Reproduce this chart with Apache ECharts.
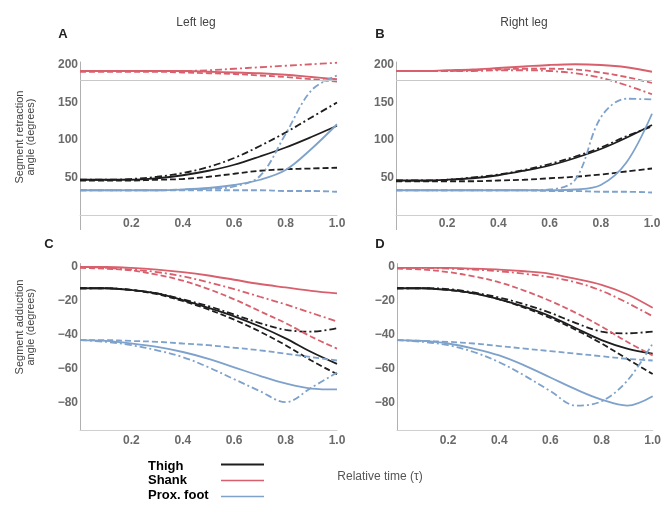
<!DOCTYPE html>
<html><head><meta charset="utf-8">
<script src="https://cdn.jsdelivr.net/npm/echarts@6/dist/echarts.min.js"></script>
<style>html,body{margin:0;padding:0;background:#fff}#c{width:664px;height:507px}</style>
</head><body><div id="c"></div>
<script>
// Relative time (tau)
const T = [0,0.1,0.2,0.3,0.4,0.5,0.6,0.7,0.8,0.9,1.0];
const xTicks = [0.2,0.4,0.6,0.8,1.0];
const retrTicks = [50,100,150,200];
const adduTicks = [0,-20,-40,-60,-80];
const refRetraction = 180;

// Panel A (left leg, retraction)
const aThighSolid   = [47,47,47,49,53,59,67,78,90,104,119];
const aThighDash    = [46,46,46,47,48,51,55,59,61,62,63];
const aThighDashDot = [47,47,48,51,56,64,76,92,110,130,150];
const aShankSolid   = [192,192,192,192,192,191,190,189,187,184,181];
const aShankDash    = [191,191,191,191,190,189,188,186,184,181,178];
const aShankDashDot = [192,192,192,192,192,193,195,197,199,201,203];
const aFootSolid    = [33,33,33,33,34,36,40,47,60,88,121];
const aFootDash     = [33,33,33,33,33,33,33,33,32,32,31];
const aFootDashDot  = [33,33,33,33,34,35,38,52,108,166,186];

// Panel B (right leg, retraction)
const bThighSolid   = [46,46,47,49,53,59,66,76,88,103,120];
const bThighDash    = [45,45,45,45,46,47,49,51,54,58,62];
const bThighDashDot = [46,46,47,50,54,60,68,78,90,105,118];
const bShankSolid   = [192,192,193,194,196,198,200,201,200,197,191];
const bShankDash    = [192,192,192,193,194,195,195,194,190,184,176];
const bShankDashDot = [192,192,192,192,193,193,192,189,183,173,161];
const bFootSolid    = [33,33,33,33,33,33,33,34,40,70,135];
const bFootDash     = [33,33,33,33,33,33,32,32,31,31,30];
const bFootDashDot  = [33,33,33,33,33,33,34,47,130,155,154];

// Panel C (left leg, adduction)
const cThighSolid   = [-12.5,-12.5,-13.5,-15.5,-19.5,-24,-29,-35,-42,-50,-57];
const cThighDash    = [-12.5,-12.5,-13.5,-16,-20,-25,-31,-38,-46,-55,-63];
const cThighDashDot = [-12.5,-12.5,-13.5,-15.5,-19,-23,-28,-33,-37,-38,-36];
const cShankSolid   = [0,0,-0.5,-1.5,-3,-5,-7.5,-10,-12,-14,-15.5];
const cShankDash    = [-0.5,-1,-2,-4.5,-8,-13,-19,-26,-33,-41,-48];
const cShankDashDot = [0,-0.5,-1.5,-3,-5.5,-9,-13,-17.5,-22,-27,-32];
const cFootSolid    = [-43,-43.5,-45,-47,-50,-54,-59,-64,-68.5,-71.5,-72];
const cFootDash     = [-43,-43,-43.5,-44,-45,-46,-47.5,-49,-51,-53,-55];
const cFootDashDot  = [-43,-44,-46,-49,-53,-59,-66,-73,-79.5,-71,-62];

// Panel D (right leg, adduction)
const dThighSolid   = [-12.5,-12.5,-13.5,-15.5,-19,-23.5,-29,-36,-43,-48,-51];
const dThighDash    = [-12.5,-12.5,-13.5,-15.5,-19,-24,-30,-37,-45,-54,-63];
const dThighDashDot = [-12.5,-12.5,-13,-15,-18,-22,-27,-33,-38,-39,-38];
const dShankSolid   = [-0.5,-0.5,-0.5,-1,-1.5,-2.5,-4,-7,-10.5,-16,-24];
const dShankDash    = [-1,-1.5,-3,-5.5,-9,-14,-20,-27,-35,-44,-52];
const dShankDashDot = [-0.5,-0.5,-1,-1.5,-2.5,-4,-6,-9,-14,-21,-29];
const dFootSolid    = [-43,-43.5,-45,-48,-52,-58,-65,-72,-78,-81.5,-76];
const dFootDash     = [-43,-43.5,-44,-45,-46.5,-48,-49.5,-51,-52.5,-54,-55];
const dFootDashDot  = [-43,-44,-46,-50,-56,-64,-73,-81.5,-79,-67,-45];

const COLORS = {Thigh:'#1e1e1e', Shank:'#d8606c', 'Prox. foot':'#7ea2cb'};
const DASH = {solid:'solid', dash:[6,3], dashdot:[7,3,2,3]};

const panels = [
  {lines:[['Thigh','solid',aThighSolid],['Thigh','dash',aThighDash],['Thigh','dashdot',aThighDashDot],
          ['Shank','solid',aShankSolid],['Shank','dash',aShankDash],['Shank','dashdot',aShankDashDot],
          ['Prox. foot','solid',aFootSolid],['Prox. foot','dash',aFootDash],['Prox. foot','dashdot',aFootDashDot]], ref:true},
  {lines:[['Thigh','solid',bThighSolid],['Thigh','dash',bThighDash],['Thigh','dashdot',bThighDashDot],
          ['Shank','solid',bShankSolid],['Shank','dash',bShankDash],['Shank','dashdot',bShankDashDot],
          ['Prox. foot','solid',bFootSolid],['Prox. foot','dash',bFootDash],['Prox. foot','dashdot',bFootDashDot]], ref:true},
  {lines:[['Thigh','solid',cThighSolid],['Thigh','dash',cThighDash],['Thigh','dashdot',cThighDashDot],
          ['Shank','solid',cShankSolid],['Shank','dash',cShankDash],['Shank','dashdot',cShankDashDot],
          ['Prox. foot','solid',cFootSolid],['Prox. foot','dash',cFootDash],['Prox. foot','dashdot',cFootDashDot]]},
  {lines:[['Thigh','solid',dThighSolid],['Thigh','dash',dThighDash],['Thigh','dashdot',dThighDashDot],
          ['Shank','solid',dShankSolid],['Shank','dash',dShankDash],['Shank','dashdot',dShankDashDot],
          ['Prox. foot','solid',dFootSolid],['Prox. foot','dash',dFootDash],['Prox. foot','dashdot',dFootDashDot]]}
];

const FONT = 'Liberation Sans, Arial, sans-serif';
const grids = [
  {left:80, top:62, width:257, height:153},
  {left:396, top:62, width:256, height:153},
  {left:80, top:263.6, width:257, height:166.6},
  {left:397, top:263.6, width:256, height:166.6}
];
const fmtNum = v => (v < 0 ? '\u2212' + Math.abs(v) : String(v));

const xAxes = grids.map((g,i) => ({
  type:'value', gridIndex:i, min:0, max:1, interval:0.2,
  axisLine:{show:true, onZero:false, lineStyle:{color:'#cfcfcf', width:1}},
  axisTick:{show:false}, splitLine:{show:false},
  axisLabel:{margin: i<2 ? 3 : 4, color:'#6a6a6a', fontSize:12, fontFamily:FONT, fontWeight:'bold',
    formatter: v => xTicks.some(t => Math.abs(t - v) < 1e-6) ? v.toFixed(1) : ''}
}));
const yAxes = grids.map((g,i) => {
  const top = i < 2;
  return {
    type:'value', gridIndex:i, min: top ? 0 : -96, max: top ? 204 : 2, interval: 2,
    axisLine:{show:true, onZero:false, lineStyle:{color:'#b0b0b0', width:1}},
    axisTick:{show:false}, splitLine:{show:false},
    axisLabel:{margin:2, color:'#6a6a6a', fontSize:12, fontFamily:FONT, fontWeight:'bold', showMinLabel:true, showMaxLabel:false,
      formatter: v => {
        const r = Math.round(v);
        const list = top ? retrTicks : adduTicks;
        return (Math.abs(r - v) < 1e-6 && list.includes(r)) ? fmtNum(r) : '';
      }}
  };
});

const series = [];
panels.forEach((p, i) => {
  if (p.ref) {
    series.push({type:'line', xAxisIndex:i, yAxisIndex:i, data:[], silent:true,
      markLine:{silent:true, symbol:'none', label:{show:false},
        lineStyle:{color:'#c8c8c8', type:'solid', width:1.2},
        data:[{yAxis:refRetraction}]}});
  }
  p.lines.forEach(([name, style, vals]) => {
    series.push({
      type:'line', name, xAxisIndex:i, yAxisIndex:i, showSymbol:false, smooth:0.35,
      lineStyle:{color:COLORS[name], width:1.8, type:DASH[style]},
      data: T.map((t,k) => [t, vals[k]])
    });
  });
});

const txt = (x,y,text,extra) => Object.assign({type:'text', x, y, silent:true,
  style:Object.assign({text, fill:'#333', font:'12px ' + FONT, textAlign:'center', textVerticalAlign:'middle'}, extra||{})});

const graphic = [
  // y-axis line extension below the zero baseline (panels A and B)
  {type:'line', silent:true, shape:{x1:80.5, y1:215, x2:80.5, y2:230}, style:{stroke:'#b0b0b0', lineWidth:1}},
  {type:'line', silent:true, shape:{x1:396.5, y1:215, x2:396.5, y2:230}, style:{stroke:'#b0b0b0', lineWidth:1}},
  txt(196, 23, 'Left leg', {fill:'#444'}),
  txt(524, 23, 'Right leg', {fill:'#444'}),
  txt(63, 34, 'A', {font:'bold 13px ' + FONT, fill:'#222'}),
  txt(380, 34, 'B', {font:'bold 13px ' + FONT, fill:'#222'}),
  txt(49, 244, 'C', {font:'bold 13px ' + FONT, fill:'#222'}),
  txt(380, 244, 'D', {font:'bold 13px ' + FONT, fill:'#222'}),
  {type:'text', x:25, y:137, rotation:Math.PI/2, silent:true,
    style:{text:'Segment retraction\nangle (degrees)', fill:'#444', font:'11px ' + FONT, textAlign:'center', textVerticalAlign:'middle', lineHeight:11}},
  {type:'text', x:25, y:327, rotation:Math.PI/2, silent:true,
    style:{text:'Segment adduction\nangle (degrees)', fill:'#444', font:'11px ' + FONT, textAlign:'center', textVerticalAlign:'middle', lineHeight:11}},
  txt(380, 477, 'Relative time (\u03c4)', {fill:'#555'}),
  txt(148, 466, 'Thigh', {font:'bold 13px ' + FONT, fill:'#000', textAlign:'left'}),
  txt(148, 480, 'Shank', {font:'bold 13px ' + FONT, fill:'#000', textAlign:'left'}),
  txt(148, 495, 'Prox. foot', {font:'bold 13px ' + FONT, fill:'#000', textAlign:'left'}),
  {type:'line', silent:true, shape:{x1:221, y1:464.5, x2:264, y2:464.5}, style:{stroke:COLORS.Thigh, lineWidth:2}},
  {type:'line', silent:true, shape:{x1:221, y1:480.5, x2:264, y2:480.5}, style:{stroke:COLORS.Shank, lineWidth:1.5}},
  {type:'line', silent:true, shape:{x1:221, y1:496.5, x2:264, y2:496.5}, style:{stroke:COLORS['Prox. foot'], lineWidth:1.5}}
];

const chart = echarts.init(document.getElementById('c'), null, {renderer:'canvas'});
chart.setOption({
  animation:false, backgroundColor:'#fff',
  grid: grids, xAxis: xAxes, yAxis: yAxes, series, graphic
});
</script>
</body></html>
